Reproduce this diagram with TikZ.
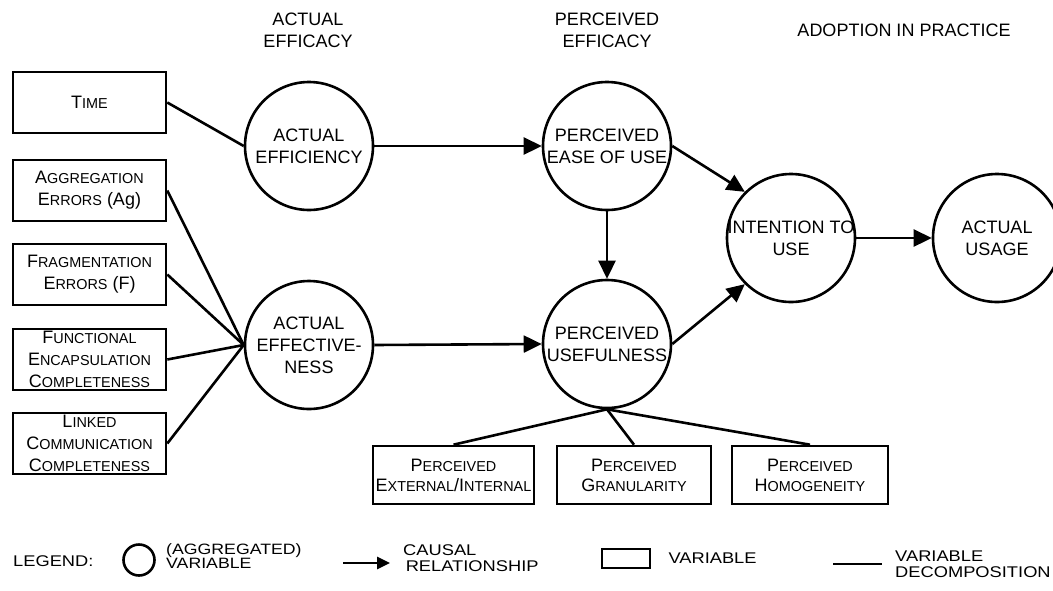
\documentclass[tikz,border=0pt]{standalone}
\usepackage{fontspec}
\setmainfont{Liberation Sans}
\usetikzlibrary{positioning}
\usetikzlibrary{arrows.meta}
\newcommand{\smc}[2]{#1{\fontsize{14.4}{22}\selectfont #2}}
\newcommand{\legtxt}[1]{\scalebox{1.18}[1]{#1}}
\newcommand{\widthvar}{153pt}
\newcommand{\sizeagg}{128pt}
\tikzset{
    common/.style={draw, line width=2.6pt, align=center, font=\fontsize{18}{22}\selectfont},
    varbox/.style={common, rectangle, minimum width=\widthvar, minimum height=61pt, inner sep=0pt},
    percbox/.style={common, rectangle, minimum height=58pt, inner sep=0pt, font=\fontsize{18}{20}\selectfont},
    aggcircle/.style={common, circle, minimum size=\sizeagg, inner sep=-6pt},
    heading/.style={align=center, font=\fontsize{18}{22}\selectfont},
    causal/.style={-{Triangle[length=18pt, width=17pt]}, line width=2.6pt},
    decomp/.style={line width=2.6pt},
    legendtext/.style={anchor=west, align=left, inner sep=0pt, font={\fontsize{15.5}{16}\selectfont\lineskiplimit=-20pt}},
}
\begin{document}
\begin{tikzpicture}[x=1pt, y=-1pt]
    \useasboundingbox (0,0) rectangle (1053,590);

    \node[heading] (hactual) at (308,30) {ACTUAL\\EFFICACY};
    \node[heading] (hperceived) at (607,30) {PERCEIVED\\EFFICACY};
    \node[heading] (hadoption) at (904,30) {ADOPTION IN PRACTICE};

    \node[varbox] (time) at (89.5,102.5) {\smc{T}{IME}};
    \node[varbox] (aggerr) at (89.5,190.5) {\smc{A}{GGREGATION}\\\smc{E}{RRORS} (Ag)};
    \node[varbox] (fragerr) at (89.5,274.5) {\smc{F}{RAGMENTATION}\\\smc{E}{RRORS} (F)};
    \node[varbox] (funcenc) at (89.5,359.5) {\smc{F}{UNCTIONAL}\\\smc{E}{NCAPSULATION}\\\smc{C}{OMPLETENESS}};
    \node[varbox] (linkcom) at (89.5,443.5) {\smc{L}{INKED}\\\smc{C}{OMMUNICATION}\\\smc{C}{OMPLETENESS}};

    \node[aggcircle] (efficiency) at (309,146) {ACTUAL\\EFFICIENCY};
    \node[aggcircle] (effectiveness) at (309,345) {ACTUAL\\EFFECTIVE-\\NESS};
    \node[aggcircle] (peou) at (607,146) {PERCEIVED\\EASE OF USE};
    \node[aggcircle] (pu) at (607,344) {PERCEIVED\\USEFULNESS};
    \node[aggcircle] (itu) at (791,238) {INTENTION TO\\USE};
    \node[aggcircle] (usage) at (997,238) {ACTUAL\\USAGE};

    \node[percbox, minimum width=161pt] (pext) at (453.5,475) {\smc{P}{ERCEIVED}\\\smc{E}{XTERNAL}/\smc{I}{NTERNAL}};
    \node[percbox, minimum width=154pt] (pgran) at (634,475) {\smc{P}{ERCEIVED}\\\smc{G}{RANULARITY}};
    \node[percbox, minimum width=156pt] (phom) at (810,475) {\smc{P}{ERCEIVED}\\\smc{H}{OMOGENEITY}};

    \draw[decomp] (time.east) -- (efficiency.west);
    \foreach \v in {aggerr, fragerr, funcenc, linkcom}
        \draw[decomp] (\v.east) -- (effectiveness.west);
    \foreach \v in {pext, pgran, phom}
        \draw[decomp] (pu.south) -- (\v.north);

    \draw[causal] (efficiency.east) -- (peou.west);
    \draw[causal] (effectiveness.east) -- (pu.west);
    \draw[causal] (peou.south) -- (pu.north);
    \draw[causal] (peou.east) -- (itu.135);
    \draw[causal] (pu.east) -- (itu.225);
    \draw[causal] (itu.east) -- (usage.west);

    % legend
    \node[legendtext] (legend) at (13,561) {\legtxt{LEGEND:}};
    \node[draw, circle, line width=2.6pt, minimum size=31pt, inner sep=0pt] (legcirc) at (139,560) {};
    \node[legendtext, font={\fontsize{15}{14.5}\selectfont\lineskiplimit=-20pt}] (legcirctxt) at (166,556) {\legtxt{(AGGREGATED)}\\\legtxt{VARIABLE}};
    \coordinate (legcausalS) at (343,563);
    \coordinate (legcausalE) at (390,563);
    \draw[-{Triangle[length=13pt, width=12pt]}, line width=2.6pt] (legcausalS) -- (legcausalE);
    \node[legendtext] (legcausaltxt) at (403,558) {\legtxt{CAUSAL}\\\,\legtxt{RELATIONSHIP}};
    \node[draw, rectangle, line width=2.6pt, minimum width=48pt, minimum height=19pt, inner sep=0pt] (legrect) at (626,558.5) {};
    \node[legendtext, right=17pt of legrect] (legrecttxt) {\legtxt{VARIABLE}};
    \coordinate (legdecompS) at (833,564);
    \coordinate (legdecompE) at (882,564);
    \draw[decomp] (legdecompS) -- (legdecompE);
    \node[legendtext] (legdecomptxt) at (895,564) {\legtxt{VARIABLE}\\\legtxt{DECOMPOSITION}};
\end{tikzpicture}
\end{document}
